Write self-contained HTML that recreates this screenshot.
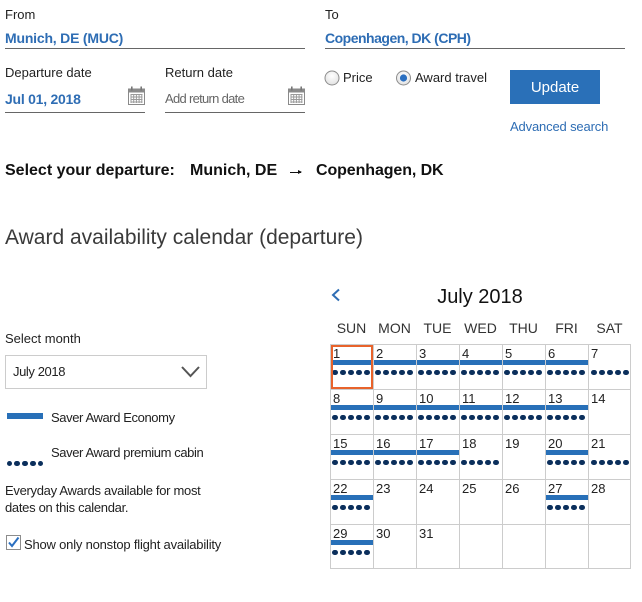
<!DOCTYPE html>
<html><head><meta charset="utf-8">
<style>
html,body{margin:0;padding:0;background:#fff;}
body{width:642px;height:602px;position:relative;overflow:hidden;font-family:"Liberation Sans",sans-serif;color:#222;}
.t{position:absolute;line-height:1;white-space:nowrap;}
.lab{font-size:13px;color:#222;}
.blue{color:#2e6db4;font-weight:bold;font-size:14px;}
.ul{position:absolute;height:1px;background:#666;}
.cell{position:absolute;width:43px;height:45px;}
.dn{position:absolute;left:3px;top:2.7px;font-size:13px;line-height:1;color:#222;}
.bar{position:absolute;left:1px;width:42px;top:16px;height:4.5px;background:#2870b8;}
.dots{position:absolute;left:-0.3px;top:25.5px;width:43px;height:6px;}
.dots i{position:absolute;top:0;width:5.6px;height:5.6px;border-radius:50%;background:#0b2f5c;}
.dn2{position:absolute;font-size:14px;line-height:1;color:#333;width:43px;text-align:center;top:320.7px;}
.ld{position:absolute;top:0;width:5.6px;height:5.6px;border-radius:50%;background:#0b2f5c;}
</style></head>
<body>
<!-- top form -->
<div class="t lab" style="left:5px;top:8.2px;">From</div>
<div class="t blue" style="left:5px;top:30.7px;letter-spacing:-0.2px;">Munich, DE (MUC)</div>
<div class="ul" style="left:5px;top:48px;width:300px;"></div>

<div class="t lab" style="left:325px;top:8.2px;">To</div>
<div class="t blue" style="left:325px;top:30.7px;letter-spacing:-0.5px;">Copenhagen, DK (CPH)</div>
<div class="ul" style="left:325px;top:48px;width:300px;"></div>

<div class="t lab" style="left:5px;top:66.4px;">Departure date</div>
<div class="t blue" style="left:5px;top:92.4px;letter-spacing:-0.25px;">Jul 01, 2018</div>
<div class="ul" style="left:5px;top:112px;width:140px;"></div>
<svg style="position:absolute;left:128px;top:86px;" width="17" height="19" viewBox="0 0 17 19">
<rect x="0.5" y="3" width="16" height="15.5" fill="#fff" stroke="#8a8a8a"/>
<rect x="0.5" y="3" width="16" height="3.5" fill="#8a8a8a"/>
<rect x="3" y="0.5" width="1.6" height="4" fill="#777"/><rect x="12.4" y="0.5" width="1.6" height="4" fill="#777"/>
<g fill="#9a9a9a"><rect x="2.5" y="8" width="12" height="1"/><rect x="2.5" y="10.5" width="12" height="1"/><rect x="2.5" y="13" width="12" height="1"/><rect x="2.5" y="15.5" width="12" height="1"/>
<rect x="2.5" y="8" width="1" height="9"/><rect x="5.2" y="8" width="1" height="9"/><rect x="7.9" y="8" width="1" height="9"/><rect x="10.6" y="8" width="1" height="9"/><rect x="13.3" y="8" width="1" height="9"/></g>
</svg>

<div class="t lab" style="left:165px;top:66.4px;">Return date</div>
<div class="t lab" style="left:165px;top:91.7px;color:#666;letter-spacing:-0.7px;">Add return date</div>
<div class="ul" style="left:165px;top:112px;width:140px;"></div>
<svg style="position:absolute;left:288px;top:86px;" width="17" height="19" viewBox="0 0 17 19">
<rect x="0.5" y="3" width="16" height="15.5" fill="#fff" stroke="#8a8a8a"/>
<rect x="0.5" y="3" width="16" height="3.5" fill="#8a8a8a"/>
<rect x="3" y="0.5" width="1.6" height="4" fill="#777"/><rect x="12.4" y="0.5" width="1.6" height="4" fill="#777"/>
<g fill="#9a9a9a"><rect x="2.5" y="8" width="12" height="1"/><rect x="2.5" y="10.5" width="12" height="1"/><rect x="2.5" y="13" width="12" height="1"/><rect x="2.5" y="15.5" width="12" height="1"/>
<rect x="2.5" y="8" width="1" height="9"/><rect x="5.2" y="8" width="1" height="9"/><rect x="7.9" y="8" width="1" height="9"/><rect x="10.6" y="8" width="1" height="9"/><rect x="13.3" y="8" width="1" height="9"/></g>
</svg>

<!-- radios -->
<svg style="position:absolute;left:324px;top:70px;" width="100" height="16" viewBox="0 0 100 16">
<defs><radialGradient id="rg" cx="50%" cy="35%" r="60%"><stop offset="0" stop-color="#fff"/><stop offset="1" stop-color="#e4e4e4"/></radialGradient></defs>
<circle cx="8" cy="8" r="7" fill="url(#rg)" stroke="#8c8c8c"/>
<circle cx="79.5" cy="8" r="7" fill="url(#rg)" stroke="#8c8c8c"/>
<circle cx="79.5" cy="8" r="3.6" fill="#2a6fc0"/>
</svg>
<div class="t lab" style="left:343px;top:70.9px;">Price</div>
<div class="t lab" style="left:415px;top:70.9px;">Award travel</div>

<div style="position:absolute;left:510px;top:70px;width:90px;height:34px;background:#2a70b8;"></div>
<div class="t" style="left:510px;width:90px;text-align:center;top:80px;font-size:15px;color:#fff;">Update</div>
<div class="t lab" style="left:510px;top:119.9px;color:#2e6db4;letter-spacing:-0.15px;">Advanced search</div>

<!-- route line -->
<div class="t" style="left:5px;top:163.4px;font-size:16px;font-weight:bold;color:#111;">Select your departure:</div>
<div class="t" style="left:190px;top:163.4px;font-size:16px;font-weight:bold;color:#111;">Munich, DE</div>
<div style="position:absolute;left:290px;top:172px;width:11px;height:1.2px;background:#111;"></div>
<div style="position:absolute;left:298px;top:170px;width:0;height:0;border-left:4px solid #111;border-top:2.6px solid transparent;border-bottom:2.6px solid transparent;"></div>
<div class="t" style="left:316px;top:163.4px;font-size:16px;font-weight:bold;color:#111;letter-spacing:-0.1px;">Copenhagen, DK</div>

<div class="t" style="left:5px;top:226.6px;font-size:21px;color:#3a3a3a;">Award availability calendar (departure)</div>

<!-- left panel -->
<div class="t lab" style="left:5px;top:331.9px;">Select month</div>
<div style="position:absolute;left:5px;top:355px;width:200px;height:32px;border:1px solid #ccc;"></div>
<div class="t lab" style="left:13px;top:364.9px;letter-spacing:-0.4px;">July 2018</div>
<svg style="position:absolute;left:180px;top:365px;" width="21" height="14" viewBox="0 0 21 14">
<polyline points="2,2 10.5,11 19,2" fill="none" stroke="#555" stroke-width="2"/>
</svg>

<div style="position:absolute;left:7px;top:413px;width:36px;height:6px;background:#2870b8;"></div>
<div class="t lab" style="left:51px;top:410.9px;letter-spacing:-0.4px;">Saver Award Economy</div>
<div style="position:absolute;left:6.7px;top:460.7px;width:40px;height:6px;">
<i class="ld" style="left:0;"></i>
<i class="ld" style="left:7.8px;"></i>
<i class="ld" style="left:15.6px;"></i>
<i class="ld" style="left:23.4px;"></i>
<i class="ld" style="left:31.2px;"></i>
</div>
<div class="t lab" style="left:51px;top:445.9px;letter-spacing:-0.4px;">Saver Award premium cabin</div>
<div class="t lab" style="left:5px;top:484.2px;letter-spacing:-0.3px;">Everyday Awards available for most</div>
<div class="t lab" style="left:5px;top:500.9px;letter-spacing:-0.3px;">dates on this calendar.</div>
<svg style="position:absolute;left:6px;top:535px;" width="16" height="16" viewBox="0 0 16 16">
<rect x="0.5" y="0.5" width="14" height="14" fill="#fff" stroke="#8c8c8c"/>
<polyline points="3,7.5 6,11 12.5,2.5" fill="none" stroke="#2a6fc0" stroke-width="2"/>
</svg>
<div class="t lab" style="left:24px;top:537.5px;letter-spacing:-0.2px;">Show only nonstop flight availability</div>

<!-- calendar header -->
<svg style="position:absolute;left:330px;top:288px;" width="12" height="14" viewBox="0 0 12 14">
<polyline points="9,1.5 3,7 9,12.5" fill="none" stroke="#2e6db4" stroke-width="2"/>
</svg>
<div class="t" style="left:400px;width:160px;text-align:center;top:287.4px;font-size:20px;color:#111;">July 2018</div>
<div class="dn2" style="left:330px;">SUN</div>
<div class="dn2" style="left:373px;">MON</div>
<div class="dn2" style="left:416px;">TUE</div>
<div class="dn2" style="left:459px;">WED</div>
<div class="dn2" style="left:502px;">THU</div>
<div class="dn2" style="left:545px;">FRI</div>
<div class="dn2" style="left:588px;">SAT</div>

<!-- grid lines -->
<div style="position:absolute;left:330px;top:344px;width:301px;height:225px;border:1px solid #ccc;box-sizing:border-box;"></div>
<div style="position:absolute;left:330px;top:389px;width:301px;height:1px;background:#ccc;"></div>
<div style="position:absolute;left:330px;top:434px;width:301px;height:1px;background:#ccc;"></div>
<div style="position:absolute;left:330px;top:479px;width:301px;height:1px;background:#ccc;"></div>
<div style="position:absolute;left:330px;top:524px;width:301px;height:1px;background:#ccc;"></div>
<div style="position:absolute;left:373px;top:344px;width:1px;height:225px;background:#ccc;"></div>
<div style="position:absolute;left:416px;top:344px;width:1px;height:225px;background:#ccc;"></div>
<div style="position:absolute;left:459px;top:344px;width:1px;height:225px;background:#ccc;"></div>
<div style="position:absolute;left:502px;top:344px;width:1px;height:225px;background:#ccc;"></div>
<div style="position:absolute;left:545px;top:344px;width:1px;height:225px;background:#ccc;"></div>
<div style="position:absolute;left:588px;top:344px;width:1px;height:225px;background:#ccc;"></div>

<!-- row 1 -->
<div class="cell" style="left:330px;top:344px;"><div class="dn">1</div><div class="bar"></div><div class="dots"><i style="left:2.5px"></i><i style="left:10.5px"></i><i style="left:18.5px"></i><i style="left:26.5px"></i><i style="left:34.5px"></i></div></div>
<div class="cell" style="left:373px;top:344px;"><div class="dn">2</div><div class="bar"></div><div class="dots"><i style="left:2.5px"></i><i style="left:10.5px"></i><i style="left:18.5px"></i><i style="left:26.5px"></i><i style="left:34.5px"></i></div></div>
<div class="cell" style="left:416px;top:344px;"><div class="dn">3</div><div class="bar"></div><div class="dots"><i style="left:2.5px"></i><i style="left:10.5px"></i><i style="left:18.5px"></i><i style="left:26.5px"></i><i style="left:34.5px"></i></div></div>
<div class="cell" style="left:459px;top:344px;"><div class="dn">4</div><div class="bar"></div><div class="dots"><i style="left:2.5px"></i><i style="left:10.5px"></i><i style="left:18.5px"></i><i style="left:26.5px"></i><i style="left:34.5px"></i></div></div>
<div class="cell" style="left:502px;top:344px;"><div class="dn">5</div><div class="bar"></div><div class="dots"><i style="left:2.5px"></i><i style="left:10.5px"></i><i style="left:18.5px"></i><i style="left:26.5px"></i><i style="left:34.5px"></i></div></div>
<div class="cell" style="left:545px;top:344px;"><div class="dn">6</div><div class="bar"></div><div class="dots"><i style="left:2.5px"></i><i style="left:10.5px"></i><i style="left:18.5px"></i><i style="left:26.5px"></i><i style="left:34.5px"></i></div></div>
<div class="cell" style="left:588px;top:344px;"><div class="dn">7</div><div class="dots"><i style="left:3.5px"></i><i style="left:11.5px"></i><i style="left:19.5px"></i><i style="left:27.5px"></i><i style="left:35.5px"></i></div></div>

<!-- row 2 -->
<div class="cell" style="left:330px;top:389px;"><div class="dn">8</div><div class="bar"></div><div class="dots"><i style="left:2.5px"></i><i style="left:10.5px"></i><i style="left:18.5px"></i><i style="left:26.5px"></i><i style="left:34.5px"></i></div></div>
<div class="cell" style="left:373px;top:389px;"><div class="dn">9</div><div class="bar"></div><div class="dots"><i style="left:2.5px"></i><i style="left:10.5px"></i><i style="left:18.5px"></i><i style="left:26.5px"></i><i style="left:34.5px"></i></div></div>
<div class="cell" style="left:416px;top:389px;"><div class="dn">10</div><div class="bar"></div><div class="dots"><i style="left:2.5px"></i><i style="left:10.5px"></i><i style="left:18.5px"></i><i style="left:26.5px"></i><i style="left:34.5px"></i></div></div>
<div class="cell" style="left:459px;top:389px;"><div class="dn">11</div><div class="bar"></div><div class="dots"><i style="left:2.5px"></i><i style="left:10.5px"></i><i style="left:18.5px"></i><i style="left:26.5px"></i><i style="left:34.5px"></i></div></div>
<div class="cell" style="left:502px;top:389px;"><div class="dn">12</div><div class="bar"></div><div class="dots"><i style="left:2.5px"></i><i style="left:10.5px"></i><i style="left:18.5px"></i><i style="left:26.5px"></i><i style="left:34.5px"></i></div></div>
<div class="cell" style="left:545px;top:389px;"><div class="dn">13</div><div class="bar"></div><div class="dots"><i style="left:2.5px"></i><i style="left:10.5px"></i><i style="left:18.5px"></i><i style="left:26.5px"></i><i style="left:34.5px"></i></div></div>
<div class="cell" style="left:588px;top:389px;"><div class="dn">14</div></div>

<!-- row 3 -->
<div class="cell" style="left:330px;top:434px;"><div class="dn">15</div><div class="bar"></div><div class="dots"><i style="left:2.5px"></i><i style="left:10.5px"></i><i style="left:18.5px"></i><i style="left:26.5px"></i><i style="left:34.5px"></i></div></div>
<div class="cell" style="left:373px;top:434px;"><div class="dn">16</div><div class="bar"></div><div class="dots"><i style="left:2.5px"></i><i style="left:10.5px"></i><i style="left:18.5px"></i><i style="left:26.5px"></i><i style="left:34.5px"></i></div></div>
<div class="cell" style="left:416px;top:434px;"><div class="dn">17</div><div class="bar"></div><div class="dots"><i style="left:2.5px"></i><i style="left:10.5px"></i><i style="left:18.5px"></i><i style="left:26.5px"></i><i style="left:34.5px"></i></div></div>
<div class="cell" style="left:459px;top:434px;"><div class="dn">18</div><div class="dots"><i style="left:2.5px"></i><i style="left:10.5px"></i><i style="left:18.5px"></i><i style="left:26.5px"></i><i style="left:34.5px"></i></div></div>
<div class="cell" style="left:502px;top:434px;"><div class="dn">19</div></div>
<div class="cell" style="left:545px;top:434px;"><div class="dn">20</div><div class="bar"></div><div class="dots"><i style="left:2.5px"></i><i style="left:10.5px"></i><i style="left:18.5px"></i><i style="left:26.5px"></i><i style="left:34.5px"></i></div></div>
<div class="cell" style="left:588px;top:434px;"><div class="dn">21</div><div class="dots"><i style="left:3.5px"></i><i style="left:11.5px"></i><i style="left:19.5px"></i><i style="left:27.5px"></i><i style="left:35.5px"></i></div></div>

<!-- row 4 -->
<div class="cell" style="left:330px;top:479px;"><div class="dn">22</div><div class="bar"></div><div class="dots"><i style="left:2.5px"></i><i style="left:10.5px"></i><i style="left:18.5px"></i><i style="left:26.5px"></i><i style="left:34.5px"></i></div></div>
<div class="cell" style="left:373px;top:479px;"><div class="dn">23</div></div>
<div class="cell" style="left:416px;top:479px;"><div class="dn">24</div></div>
<div class="cell" style="left:459px;top:479px;"><div class="dn">25</div></div>
<div class="cell" style="left:502px;top:479px;"><div class="dn">26</div></div>
<div class="cell" style="left:545px;top:479px;"><div class="dn">27</div><div class="bar"></div><div class="dots"><i style="left:2.5px"></i><i style="left:10.5px"></i><i style="left:18.5px"></i><i style="left:26.5px"></i><i style="left:34.5px"></i></div></div>
<div class="cell" style="left:588px;top:479px;"><div class="dn">28</div></div>

<!-- row 5 -->
<div class="cell" style="left:330px;top:524px;"><div class="dn">29</div><div class="bar"></div><div class="dots"><i style="left:2.5px"></i><i style="left:10.5px"></i><i style="left:18.5px"></i><i style="left:26.5px"></i><i style="left:34.5px"></i></div></div>
<div class="cell" style="left:373px;top:524px;"><div class="dn">30</div></div>
<div class="cell" style="left:416px;top:524px;"><div class="dn">31</div></div>

<!-- selected day outline -->
<div style="position:absolute;left:330.5px;top:344.5px;width:42.5px;height:44.5px;border:2px solid #e8632b;box-sizing:border-box;"></div>
</body></html>
